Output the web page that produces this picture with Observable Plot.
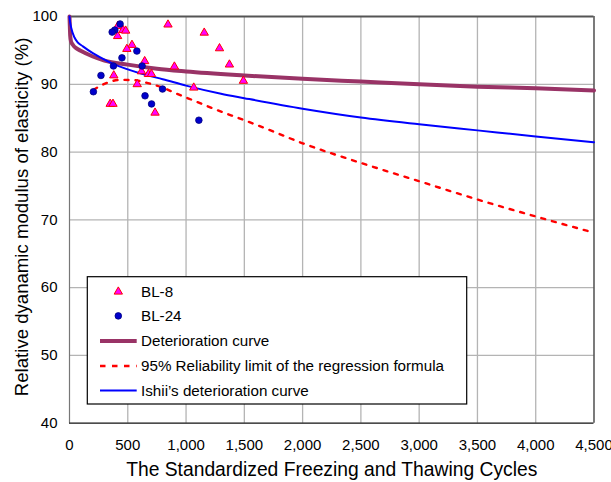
<!DOCTYPE html>
<html><head><meta charset="utf-8">
<script src="https://cdn.jsdelivr.net/npm/d3@7"></script>
<script src="https://cdn.jsdelivr.net/npm/@observablehq/plot@0.6"></script>
<style>
body{margin:0;background:#fff;}
#chart{width:611px;height:482px;overflow:hidden;}
</style></head><body><div id="chart"></div>
<script>
// BL-8 specimens (triangles)
const bl8Cycles  = [415, 459, 482, 413, 845, 1156, 536, 492, 1287, 645, 1372, 900, 618, 677, 703, 380, 1492, 581, 1066, 349, 373, 734];
const bl8Modulus = [98.6, 98.0, 97.9, 97.1, 98.8, 97.6, 95.8, 95.2, 95.3, 93.4, 92.9, 92.6, 91.9, 91.5, 91.5, 91.3, 90.5, 90.0, 89.5, 87.1, 87.1, 85.8];
// BL-24 specimens (circles)
const bl24Cycles  = [434, 389, 366, 578, 450, 377, 623, 270, 205, 798, 648, 704, 1110];
const bl24Modulus = [98.9, 98.0, 97.7, 94.9, 93.9, 92.7, 92.7, 91.3, 88.9, 89.3, 88.3, 87.1, 84.7];
// Deterioration curve
const detCycles  = [0, 3, 6, 12, 30, 60, 100, 200, 300, 500, 750, 1000, 1500, 2000, 2500, 3000, 3500, 4000, 4500];
const detModulus = [100, 98.5, 97.2, 96.4, 95.8, 95.3, 94.9, 94.1, 93.5, 92.9, 92.3, 91.9, 91.3, 90.8, 90.4, 90.0, 89.65, 89.4, 89.1];
// 95% reliability limit of the regression formula
const limCycles  = [206, 320, 435, 560, 665, 800, 907, 1022, 1137, 1236, 1500, 1680, 2000, 2500, 3000, 3500, 4000, 4500];
const limModulus = [89.2, 90.2, 90.65, 90.6, 90.2, 89.5, 88.7, 87.9, 87.1, 86.4, 84.7, 83.5, 81.3, 78.4, 75.7, 73.0, 70.5, 68.1];
// Ishii's deterioration curve
const ishCycles  = [0, 5, 15, 43, 70, 115, 200, 260, 375, 500, 650, 800, 1000, 1300, 1500, 2000, 2500, 3000, 3500, 4000, 4500];
const ishModulus = [100, 99.2, 98.3, 96.9, 96.2, 95.6, 94.6, 94.0, 93.0, 92.2, 91.4, 90.75, 89.8, 88.6, 87.95, 86.4, 85.1, 84.1, 83.2, 82.3, 81.45];

const xTicks = [0, 500, 1000, 1500, 2000, 2500, 3000, 3500, 4000, 4500];
const yTicks = [40, 50, 60, 70, 80, 90, 100];
const xTitle = "The Standardized Freezing and Thawing Cycles";
const yTitle = "Relative dyanamic modulus of elasticity (%)";
const legendLabels = ["BL-8", "BL-24", "Deterioration curve", "95% Reliability limit of the regression formula", "Ishii\u2019s deterioration curve"];

const pts = (xs, ys) => xs.map((x, i) => ({x, y: ys[i]}));
const bl8 = pts(bl8Cycles, bl8Modulus);
const bl24 = pts(bl24Cycles, bl24Modulus);
const det = pts(detCycles, detModulus);
const lim = pts(limCycles, limModulus);
const ish = pts(ishCycles, ishModulus);

const font = "'Liberation Sans', Arial, sans-serif";
const chart = Plot.plot({
  width: 611, height: 482,
  marginLeft: 69, marginRight: 17.5, marginTop: 16, marginBottom: 59.3,
  style: {fontFamily: font, fontSize: "15px", color: "#000", background: "#fff", overflow: "visible"},
  x: {domain: [0, 4500]},
  y: {domain: [40, 100]},
  marks: [
    Plot.gridX(xTicks.slice(1, -1), {stroke: "#b4b4b4", strokeOpacity: 1, strokeWidth: 1.3}),
    Plot.gridY(yTicks.slice(1, -1), {stroke: "#b4b4b4", strokeOpacity: 1, strokeWidth: 1.3}),
    Plot.ruleX([0], {stroke: "#777", strokeWidth: 1.2}),
    Plot.ruleX([4500], {stroke: "#222", strokeWidth: 1.2}),
    Plot.ruleY([40], {stroke: "#111", strokeWidth: 1.2}),
    Plot.ruleY([100], {stroke: "#555", strokeWidth: 2}),
    Plot.axisX({ticks: xTicks, tickSize: 0, tickPadding: 16, tickFormat: d3.format(","), label: null, fontSize: 15}),
    Plot.axisY({ticks: yTicks, tickSize: 0, tickPadding: 12, label: null, fontSize: 15}),
    Plot.text([xTitle], {frameAnchor: "bottom", dy: 53, fontSize: 19.3, fill: "#000", textAnchor: "middle"}),
    Plot.text([yTitle], {frameAnchor: "left", dx: -47, dy: -3, rotate: -90, fontSize: 18.6, fill: "#000", textAnchor: "middle"}),
    Plot.line(det, {x: "x", y: "y", stroke: "#993366", strokeWidth: 4, curve: "monotone-x"}),
    Plot.line(lim, {x: "x", y: "y", stroke: "#ff0000", strokeWidth: 2.4, strokeDasharray: "4,7", curve: "monotone-x"}),
    Plot.line(ish, {x: "x", y: "y", stroke: "#0000ff", strokeWidth: 2, curve: "monotone-x"}),
    Plot.dot(bl8, {x: "x", y: "y", symbol: "triangle", r: 3.1, fill: "#ff00ff", stroke: "#ff0000", strokeWidth: 1}),
    Plot.dot(bl24, {x: "x", y: "y", r: 3.3, fill: "#0000cc", stroke: "#000080", strokeWidth: 0.8})
  ]
});
document.getElementById("chart").appendChild(chart);

// Legend (drawn inside the plot area)
const svg = d3.select(chart);
const lg = svg.append("g").attr("font-family", font).attr("font-size", "15.2px").attr("text-anchor", "start");
lg.append("rect").attr("x", 87.3).attr("y", 276.7).attr("width", 379.4).attr("height", 127.3)
  .attr("fill", "#fff").attr("stroke", "#000").attr("stroke-width", 1.2);
const rowY = [291.7, 315.9, 341, 366, 390.5];
const symX = 118.3;
lg.append("path").attr("d", d3.symbol(d3.symbolTriangle, Math.PI * 3.1 * 3.1)())
  .attr("transform", `translate(${symX},${rowY[0]})`).attr("fill", "#ff00ff").attr("stroke", "#ff0000");
lg.append("circle").attr("cx", symX).attr("cy", rowY[1]).attr("r", 3.3).attr("fill", "#0000cc").attr("stroke", "#000080").attr("stroke-width", 0.8);
lg.append("line").attr("x1", 100).attr("x2", 136.7).attr("y1", rowY[2]).attr("y2", rowY[2]).attr("stroke", "#993366").attr("stroke-width", 4);
lg.append("line").attr("x1", 100).attr("x2", 136.7).attr("y1", rowY[3]).attr("y2", rowY[3]).attr("stroke", "#ff0000").attr("stroke-width", 2.4).attr("stroke-dasharray", "5.5,6.5");
lg.append("line").attr("x1", 100).attr("x2", 136.7).attr("y1", rowY[4]).attr("y2", rowY[4]).attr("stroke", "#0000ff").attr("stroke-width", 2);
legendLabels.forEach((t, i) => {
  lg.append("text").attr("x", 141).attr("y", rowY[i]).attr("dy", "0.35em").attr("fill", "#000").attr("text-anchor", "start").text(t);
});
</script>
</body></html>
